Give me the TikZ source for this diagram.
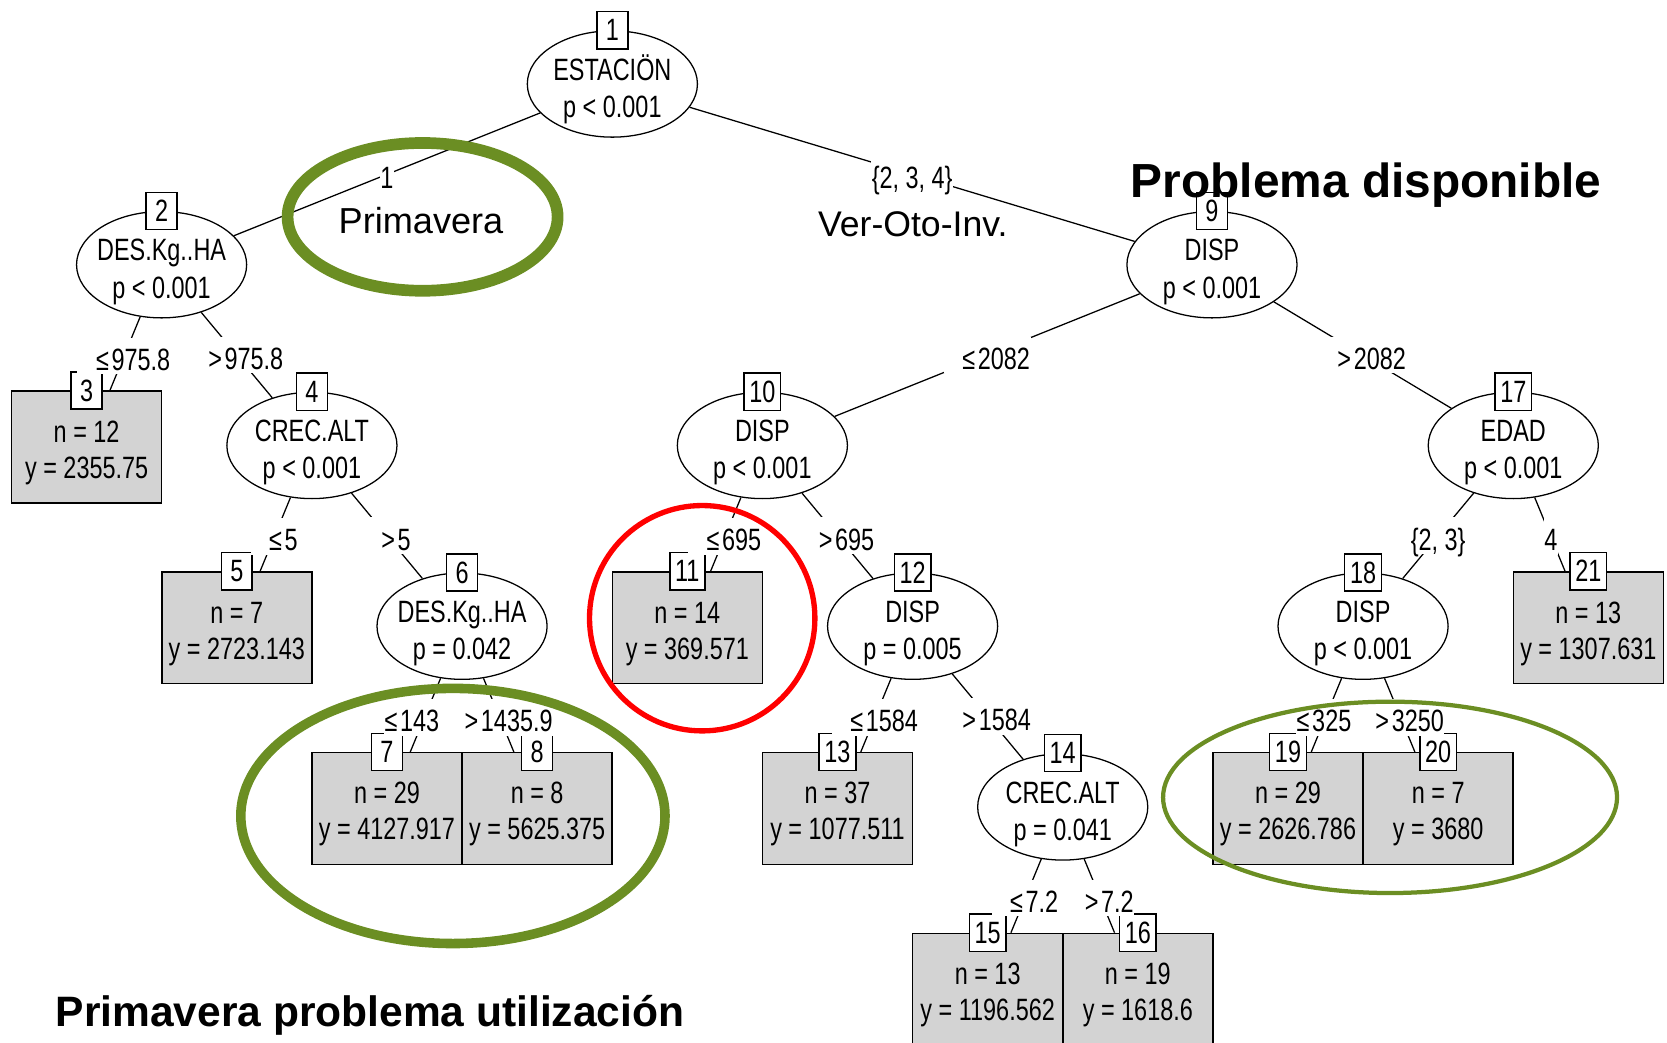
\documentclass[tikz,border=0pt]{standalone}
\usepackage{fontspec}
\setmainfont{Liberation Sans}
\newfontfamily\treefamily[FakeStretch=0.76]{Liberation Sans}
\usetikzlibrary{shapes.geometric,calc}
\definecolor{leafgray}{RGB}{211,211,211}
\definecolor{markgreen}{RGB}{107,142,35}
\definecolor{markred}{RGB}{255,0,0}
\newcommand\treesize{\fontsize{29}{35}\selectfont}
\newcommand\lgap{\hspace{2.5pt}}

\tikzset{
  treefont/.style={font=\treefamily\treesize},
  splitshape/.style={ellipse, draw, line width=1.2pt, fill=white,
    minimum width=160pt, minimum height=100pt, inner sep=0pt},
  leafshape/.style={rectangle, draw, line width=1.4pt, fill=leafgray,
    minimum width=141pt, minimum height=105pt, inner sep=0pt},
  idbox/.style={rectangle, draw, line width=1.4pt, fill=white,
    minimum width=29pt, minimum height=35pt, inner xsep=5pt, inner ysep=0pt, treefont},
  treetext/.style={inner sep=0pt, anchor=base, treefont},
  connector/.style={line width=1.2pt},
  elabel/.style={fill=white, inner xsep=0.5pt, inner ysep=0pt,
    text height=30.6pt, text depth=3.9pt, treefont},
  elabelw/.style={elabel, execute at begin node={\hspace{17pt}}},
  annot/.style={inner sep=0pt, anchor=base, font=\fontsize{34}{40}\selectfont},
  headline/.style={inner sep=0pt, anchor=base, font=\bfseries\fontsize{45}{52}\selectfont},
  ring/.style={draw=markgreen},
}

% id box and two text lines of a split node
\newcommand\splittext[4]{%
  \node[idbox] at (#1.north) {#2};
  \node[treetext, yshift=3.6pt] at (#1.center) {#3};
  \node[treetext, yshift=-31.4pt] at (#1.center) {#4};
}
% id box and two text lines of a terminal node
\newcommand\leaftext[4]{%
  \node[idbox] at (#1.north) {#2};
  \node[treetext, yshift=4.5pt] at (#1.center) {#3};
  \node[treetext, yshift=-29.5pt] at (#1.center) {#4};
}
% label half way along a connector
\newcommand\edgelabel[4]{%
  \node[#1] at ($(#2)!0.5!(#3)$) {#4};
}

\begin{document}
\begin{tikzpicture}[x=1pt,y=-1pt]
\useasboundingbox (0,0) rectangle (1568,981);
\clip (0,0) rectangle (1568,981);

% split nodes
\node[splitshape] (n1)  at (576,79) {};
\node[splitshape] (n2)  at (152,249) {};
\node[splitshape] (n4)  at (293.4,419) {};
\node[splitshape] (n6)  at (434.6,589) {};
\node[splitshape] (n9)  at (1140,249) {};
\node[splitshape] (n10) at (717.1,419) {};
\node[splitshape] (n12) at (858.4,589) {};
\node[splitshape] (n14) at (999.6,759) {};
\node[splitshape] (n17) at (1423.4,419) {};
\node[splitshape] (n18) at (1282.1,589) {};

% terminal nodes
\node[leafshape] (l3)  at (81.5,420.5) {};
\node[leafshape] (l5)  at (222.75,590.5) {};
\node[leafshape] (l7)  at (364,760.5) {};
\node[leafshape] (l8)  at (505.25,760.5) {};
\node[leafshape] (l11) at (646.5,590.5) {};
\node[leafshape] (l13) at (787.75,760.5) {};
\node[leafshape] (l15) at (929,930.5) {};
\node[leafshape] (l16) at (1070.25,930.5) {};
\node[leafshape] (l19) at (1211.5,760.5) {};
\node[leafshape] (l20) at (1352.75,760.5) {};
\node[leafshape] (l21) at (1494,590.5) {};

% connectors
\draw[connector] (n1) -- (n2);
\draw[connector] (n1) -- (n9);
\draw[connector] (n2) -- (l3);
\draw[connector] (n2) -- (n4);
\draw[connector] (n4) -- (l5);
\draw[connector] (n4) -- (n6);
\draw[connector] (n6) -- (l7);
\draw[connector] (n6) -- (l8);
\draw[connector] (n9) -- (n10);
\draw[connector] (n9) -- (n17);
\draw[connector] (n10) -- (l11);
\draw[connector] (n10) -- (n12);
\draw[connector] (n12) -- (l13);
\draw[connector] (n12) -- (n14);
\draw[connector] (n14) -- (l15);
\draw[connector] (n14) -- (l16);
\draw[connector] (n17) -- (n18);
\draw[connector] (n17) -- (l21);
\draw[connector] (n18) -- (l19);
\draw[connector] (n18) -- (l20);

% node contents
\splittext{n1}{1}{ESTACIÖN}{p < 0.001}
\splittext{n2}{2}{DES.Kg..HA}{p < 0.001}
\splittext{n4}{4}{CREC.ALT}{p < 0.001}
\splittext{n6}{6}{DES.Kg..HA}{p = 0.042}
\splittext{n9}{9}{DISP}{p < 0.001}
\splittext{n10}{10}{DISP}{p < 0.001}
\splittext{n12}{12}{DISP}{p = 0.005}
\splittext{n14}{14}{CREC.ALT}{p = 0.041}
\splittext{n17}{17}{EDAD}{p < 0.001}
\splittext{n18}{18}{DISP}{p < 0.001}

\leaftext{l3}{3}{n = 12}{y = 2355.75}
\leaftext{l5}{5}{n = 7}{y = 2723.143}
\leaftext{l7}{7}{n = 29}{y = 4127.917}
\leaftext{l8}{8}{n = 8}{y = 5625.375}
\leaftext{l11}{11}{n = 14}{y = 369.571}
\leaftext{l13}{13}{n = 37}{y = 1077.511}
\leaftext{l15}{15}{n = 13}{y = 1196.562}
\leaftext{l16}{16}{n = 19}{y = 1618.6}
\leaftext{l19}{19}{n = 29}{y = 2626.786}
\leaftext{l20}{20}{n = 7}{y = 3680}
\leaftext{l21}{21}{n = 13}{y = 1307.631}

% split labels
\edgelabel{elabel}{n1}{n2}{1}
\edgelabel{elabel}{n1}{n9}{\{2, 3, 4\}}
\edgelabel{elabelw}{n2}{l3}{≤\lgap975.8}
\edgelabel{elabelw}{n2}{n4}{>\lgap975.8}
\edgelabel{elabelw}{n4}{l5}{≤\lgap5}
\edgelabel{elabelw}{n4}{n6}{>\lgap5}
\node[elabel, anchor=west] at (361,674.75) {≤\lgap143};
\edgelabel{elabelw}{n6}{l8}{>\lgap1435.9}
\edgelabel{elabelw}{n9}{n10}{≤\lgap2082}
\edgelabel{elabelw}{n9}{n17}{>\lgap2082}
\edgelabel{elabelw}{n10}{l11}{≤\lgap695}
\edgelabel{elabelw}{n10}{n12}{>\lgap695}
\edgelabel{elabelw}{n12}{l13}{≤\lgap1584}
\edgelabel{elabelw}{n12}{n14}{>\lgap1584}
\edgelabel{elabelw}{n14}{l15}{≤\lgap7.2}
\edgelabel{elabelw}{n14}{l16}{>\lgap7.2}
\edgelabel{elabel}{n17}{n18}{\{2, 3\}}
\edgelabel{elabel}{n17}{l21}{4}
\node[elabel, anchor=west] at (1219,674.75) {≤\lgap325};
\edgelabel{elabelw}{n18}{l20}{>\lgap3250}

% annotations
\node[annot] (primlabel) at (396,219.5) {Primavera};
\node[annot, font=\fontsize{33.5}{40}\selectfont] (seasonlabel) at (858.5,222.6) {Ver-Oto-Inv.};
\node[headline] (dispheadline) at (1285,186) {Problema disponible};
\node[headline, font=\bfseries\fontsize{40}{48}\selectfont] (utilheadline) at (348,966) {Primavera problema utilización};

\draw[ring, line width=11pt] (397.5,204) ellipse [x radius=127pt, y radius=69.5pt];
\draw[ring, line width=9pt] (426,767.5) ellipse [x radius=199.5pt, y radius=120pt];
\draw[draw=markred, line width=5pt] (660.5,581.5) circle [radius=106pt];
\draw[ring, line width=4pt] (1307.5,750) ellipse [x radius=213.5pt, y radius=90pt];
\end{tikzpicture}
\end{document}
